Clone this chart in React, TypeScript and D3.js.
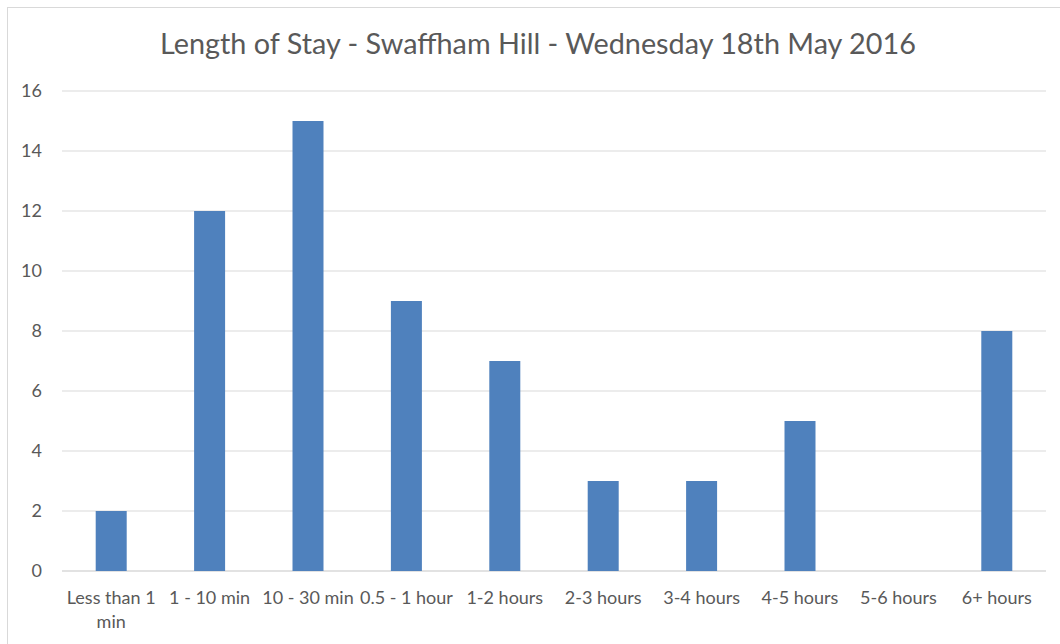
import React from "react";
import * as d3 from "d3";

const categories = ["Less than 1 min", "1 - 10 min", "10 - 30 min", "0.5 - 1 hour", "1-2 hours", "2-3 hours", "3-4 hours", "4-5 hours", "5-6 hours", "6+ hours"];
const values = [2, 12, 15, 9, 7, 3, 3, 5, 0, 8];
const yTicks = [0, 2, 4, 6, 8, 10, 12, 14, 16];
const title = "Length of Stay - Swaffham Hill - Wednesday 18th May 2016";

const W = 1060, H = 644;
const plot = { left: 62, right: 1046, top: 91, bottom: 571 };
const FONT = "Lato, 'Noto Sans', sans-serif";
const TEXT = "#595959";

export default function App() {
  const x = d3.scaleBand().domain(categories).range([plot.left, plot.right]).paddingInner(0.685).paddingOuter(0.3425);
  const y = d3.scaleLinear().domain([0, 16]).range([plot.bottom, plot.top]);
  const wrap = (s: string) => (s === "Less than 1 min" ? ["Less than 1", "min"] : [s]);
  return (
    <svg width={W} height={H} style={{ position: "absolute", left: 0, top: 0, background: "#fff" }} fontFamily={FONT}>
      <rect x={7.5} y={7.5} width={W} height={H} fill="#fff" stroke="#d9d9d9" strokeWidth={1} />
      <text x={538} y={54} textAnchor="middle" fontSize={28.8} fill={TEXT}>{title}</text>
      {yTicks.map((t) => (
        <g key={t}>
          <line x1={plot.left} x2={plot.right} y1={y(t)} y2={y(t)} stroke="#d9d9d9" strokeWidth={t === 0 ? 1.5 : 1} />
          <text x={42} y={y(t)} dy="0.35em" textAnchor="end" fontSize={18} fill={TEXT}>{t}</text>
        </g>
      ))}
      {categories.map((c, i) => (
        <rect key={c} x={x(c)!} y={y(values[i])} width={x.bandwidth()} height={y(0) - y(values[i])} fill="#4f81bd" />
      ))}
      {categories.map((c) => (
        <text key={c} x={x(c)! + x.bandwidth() / 2} y={604} textAnchor="middle" fontSize={18} fill={TEXT}>
          {wrap(c).map((l, j) => (
            <tspan key={j} x={x(c)! + x.bandwidth() / 2} dy={j === 0 ? 0 : 24}>{l}</tspan>
          ))}
        </text>
      ))}
    </svg>
  );
}
